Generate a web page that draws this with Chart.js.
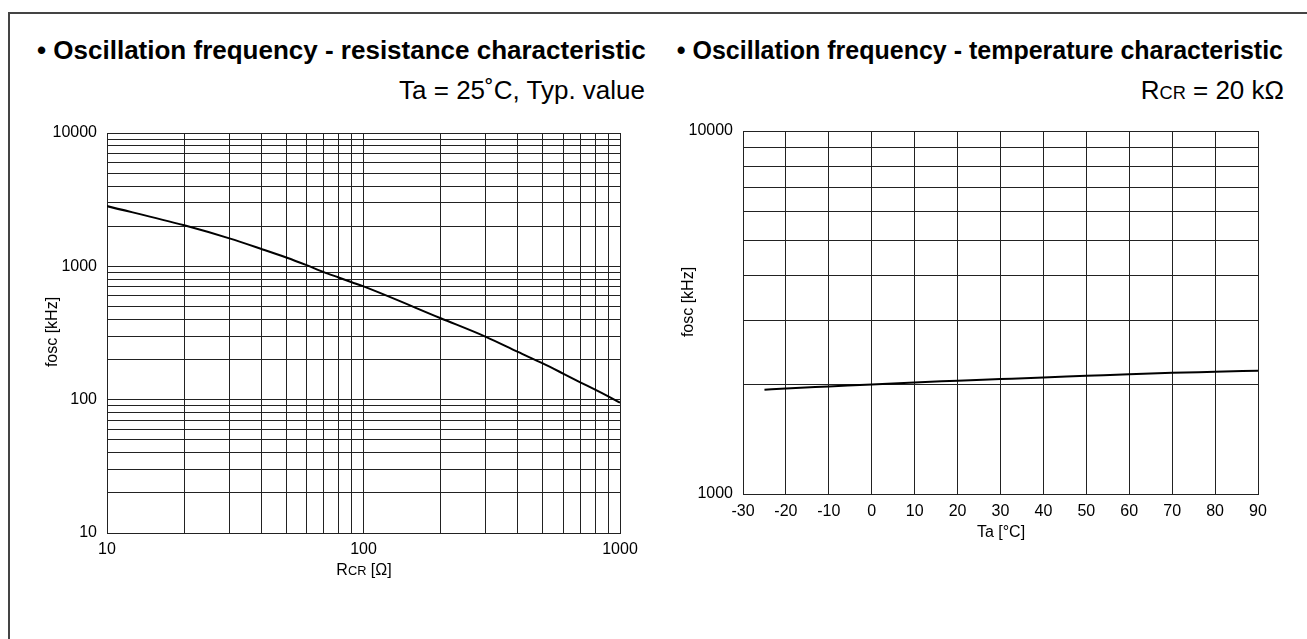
<!DOCTYPE html>
<html>
<head>
<meta charset="utf-8">
<script src="https://cdn.jsdelivr.net/npm/chart.js"></script>
<style>
body { margin: 0; width: 1307px; height: 639px; overflow: hidden; background: #fff; position: relative;
       font-family: "Liberation Sans", Arial, sans-serif; color: #000; }
.frame { position: absolute; left: 8px; top: 12px; width: 1400px; height: 700px;
         border-left: 2px solid #444; border-top: 2px solid #444; }
.title { position: absolute; top: 35px; font-weight: bold; line-height: 30px; white-space: nowrap; }
.sub { position: absolute; top: 75px; font-size: 26px; line-height: 30px; white-space: nowrap; }
.axt { position: absolute; width: 200px; font-size: 16px; line-height: 20px; text-align: center; white-space: nowrap; }
.rot { transform: rotate(-90deg); }
.sc { font-size: 80%; }
canvas { position: absolute; }
</style>
</head>
<body>
<div class="frame"></div>

<div class="title" style="left:37px; font-size:26px">• Oscillation frequency - resistance characteristic</div>
<div class="sub" style="right:662px">Ta = 25˚C, Typ. value</div>
<div class="title" style="right:24px; font-size:25px">• Oscillation frequency - temperature characteristic</div>
<div class="sub" style="right:23px">R<span style="font-size:70%">CR</span> = 20 kΩ</div>

<canvas id="res-chart" width="660" height="490" style="left:0px; top:110px"></canvas>
<canvas id="temp-chart" width="647" height="420" style="left:660px; top:110px"></canvas>

<div class="axt rot" style="left:-48px; top:322px">fosc [kHz]</div>
<div class="axt" style="left:264px; top:560px">R<span class="sc">CR</span> [Ω]</div>
<div class="axt rot" style="left:588px; top:292px">fosc [kHz]</div>
<div class="axt" style="left:901px; top:522px">Ta [°C]</div>

<script>
// resistance characteristic (Ta = 25 C)
var resistance = [10, 20, 30, 40, 50, 60, 70, 80, 90, 100, 200, 300, 400, 500, 600, 700, 800, 900, 1000]
var freqByRes = [2830, 2030, 1620, 1350, 1165, 1020, 905, 825, 760, 707, 408, 296, 228, 187, 157, 135, 119, 106, 95]

// temperature characteristic (RCR = 20 kOhm)
var temperature = [-25, -20, -10, 0, 10, 20, 30, 40, 50, 60, 70, 80, 90]
var freqByTemp = [1938, 1954, 1979, 2004, 2030, 2051, 2073, 2095, 2116, 2138, 2157, 2171, 2186]

// grid lines and labelled ticks
var resGrid = [10, 20, 30, 40, 50, 60, 70, 80, 90, 100, 200, 300, 400, 500, 600, 700, 800, 900, 1000]
var resLabels = [10, 100, 1000]
var freqGrid = [10, 20, 30, 40, 50, 60, 70, 80, 90,
                100, 200, 300, 400, 500, 600, 700, 800, 900,
                1000, 2000, 3000, 4000, 5000, 6000, 7000, 8000, 9000, 10000]
var freqLabels = [10, 100, 1000, 10000]
var tempFreqGrid = [1000, 2000, 3000, 4000, 5000, 6000, 7000, 8000, 9000, 10000]
var tempFreqLabels = [1000, 10000]

const tickFont = { family: "'Liberation Sans', Arial, sans-serif", size: 16 }
const gridStyle = { color: '#222', lineWidth: 1, drawTicks: false }
const borderStyle = { color: '#222', width: 1 }

function pairs(xs, ys) {
    return xs.map(function (x, i) { return { x: x, y: ys[i] } })
}

function fixedTicks(values) {
    return function (scale) {
        scale.ticks = values.map(function (v) { return { value: v } })
    }
}

function labelOnly(values) {
    return function (v) { return values.includes(v) ? String(v) : '' }
}

const curveStyle = {
    borderColor: '#000',
    backgroundColor: '#000',
    borderWidth: 2,
    pointRadius: 0,
    cubicInterpolationMode: 'monotone',
    fill: false
}

const baseOptions = {
    responsive: false,
    devicePixelRatio: 1,
    animation: false,
    plugins: {
        legend: { display: false },
        tooltip: { enabled: false }
    }
}

var resChart = new Chart(document.getElementById('res-chart'), {
    type: 'line',
    data: {
        datasets: [Object.assign({ data: pairs(resistance, freqByRes) }, curveStyle)]
    },
    options: Object.assign({}, baseOptions, {
        layout: { padding: { left: 0, top: 23, right: 40, bottom: 0 } },
        scales: {
            x: {
                type: 'logarithmic',
                min: 10,
                max: 1000,
                afterBuildTicks: fixedTicks(resGrid),
                afterFit: function (s) { s.height = 67 },
                ticks: { callback: labelOnly(resLabels), autoSkip: false, maxRotation: 0, padding: 7, color: '#000', font: tickFont },
                grid: gridStyle,
                border: borderStyle
            },
            y: {
                type: 'logarithmic',
                min: 10,
                max: 10000,
                afterBuildTicks: fixedTicks(freqGrid),
                afterFit: function (s) { s.width = 107 },
                ticks: { callback: labelOnly(freqLabels), autoSkip: false, padding: 10, color: '#000', font: tickFont },
                grid: gridStyle,
                border: borderStyle
            }
        }
    })
})

var tempChart = new Chart(document.getElementById('temp-chart'), {
    type: 'line',
    data: {
        datasets: [Object.assign({ data: pairs(temperature, freqByTemp) }, curveStyle)]
    },
    options: Object.assign({}, baseOptions, {
        layout: { padding: { left: 0, top: 21, right: 49, bottom: 0 } },
        scales: {
            x: {
                type: 'linear',
                min: -30,
                max: 90,
                afterFit: function (s) { s.height = 36 },
                ticks: { stepSize: 10, autoSkip: false, maxRotation: 0, padding: 8, color: '#000', font: tickFont },
                grid: gridStyle,
                border: borderStyle
            },
            y: {
                type: 'logarithmic',
                min: 1000,
                max: 10000,
                afterBuildTicks: fixedTicks(tempFreqGrid),
                afterFit: function (s) { s.width = 83 },
                ticks: { callback: labelOnly(tempFreqLabels), autoSkip: false, padding: 10, color: '#000', font: tickFont },
                grid: gridStyle,
                border: borderStyle
            }
        }
    })
})
</script>
</body>
</html>
